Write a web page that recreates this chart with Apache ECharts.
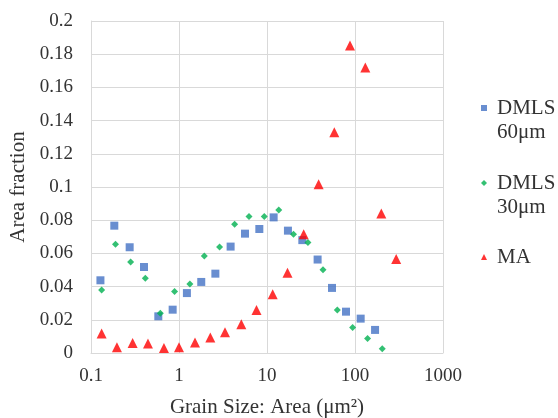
<!DOCTYPE html>
<html>
<head>
<meta charset="utf-8">
<script src="https://cdn.jsdelivr.net/npm/echarts@6/dist/echarts.min.js"></script>
<style>
  html, body { margin: 0; padding: 0; background: #fff; }
  #chart { width: 558px; height: 418px; }
</style>
</head>
<body>
<div id="chart"></div>
<script>
// DMLS 60µm [grain area, area fraction]
const dmls60 = [
  [0.128, 0.0438], [0.184, 0.0767], [0.275, 0.0637], [0.40, 0.0518],
  [0.582, 0.0221], [0.847, 0.0261], [1.23, 0.0361], [1.79, 0.0428],
  [2.59, 0.0478], [3.86, 0.0641], [5.62, 0.0719], [8.18, 0.0747],
  [11.9, 0.0817], [17.3, 0.0737], [25.2, 0.068], [37.6, 0.0563],
  [54.8, 0.0392], [79, 0.0249], [116, 0.0207], [169, 0.0139]
]
// DMLS 30µm
const dmls30 = [
  [0.132, 0.038], [0.19, 0.0655], [0.282, 0.0548], [0.414, 0.045],
  [0.613, 0.0239], [0.89, 0.037], [1.33, 0.0416], [1.94, 0.0584],
  [2.89, 0.0639], [4.29, 0.0775], [6.24, 0.0822], [9.3, 0.0822],
  [13.6, 0.0862], [20, 0.0715], [29.2, 0.0665], [43.3, 0.0502],
  [63, 0.0259], [94, 0.0153], [139, 0.0087], [204, 0.0026]
]
// MA
const ma = [
  [0.132, 0.0117], [0.197, 0.0034], [0.297, 0.006], [0.444, 0.0057],
  [0.674, 0.003], [1.0, 0.0034], [1.52, 0.0063], [2.27, 0.0093],
  [3.33, 0.0125], [5.11, 0.0173], [7.6, 0.0259], [11.6, 0.0354],
  [17.1, 0.0484], [26.1, 0.0715], [38.6, 0.1016], [58.2, 0.133],
  [87.7, 0.1852], [131, 0.172], [199, 0.084], [294, 0.0566]
]
const seriesNames = ['DMLS 60μm', 'DMLS 30μm', 'MA']
const colors = ['#4472C4', '#00B050', '#FF0000']

const font = 'Liberation Serif'
const textColor = '#333'
const chart = echarts.init(document.getElementById('chart'))

// one legend per entry so the marker sits on the first text line
const legendTops = [72, 147, 245]
const legends = seriesNames.map((name, i) => ({
  orient: 'vertical',
  left: 481,
  top: legendTops[i],
  padding: 0,
  itemWidth: 6,
  itemHeight: 6,
  textStyle: { fontFamily: font, fontSize: 21, color: textColor, lineHeight: 24, padding: [0, 0, 0, 5] },
  // leading empty line keeps the first word level with the marker
  formatter: (n) => n.includes(' ') ? '\n' + n.replace(' ', '\n') : n,
  data: [name]
}))

const option = {
  animation: false,
  backgroundColor: '#fff',
  textStyle: { fontFamily: font },
  grid: { left: 91, right: 115, top: 21, bottom: 65, outerBoundsMode: 'none' },
  legend: legends,
  xAxis: {
    type: 'log',
    logBase: 10,
    min: 0.1,
    max: 1000,
    name: 'Grain Size: Area (μm²)',
    nameLocation: 'middle',
    nameGap: 44,
    nameTextStyle: { fontFamily: font, fontSize: 21, color: textColor },
    axisLine: { lineStyle: { color: '#d9d9d9' } },
    axisTick: { show: false },
    axisLabel: {
      fontFamily: font, fontSize: 19, color: textColor, margin: 14,
      formatter: (v) => String(+Number(v).toPrecision(6))
    },
    splitLine: { show: true, lineStyle: { color: '#d9d9d9' } },
    minorSplitLine: { show: false }
  },
  yAxis: {
    type: 'value',
    min: 0,
    max: 0.2,
    interval: 0.02,
    name: 'Area fraction',
    nameLocation: 'middle',
    nameGap: 62,
    nameTextStyle: { fontFamily: font, fontSize: 21, color: textColor },
    axisLine: { show: true, lineStyle: { color: '#d9d9d9' } },
    axisTick: { show: false },
    axisLabel: { fontFamily: font, fontSize: 19, color: textColor, margin: 18 },
    splitLine: { lineStyle: { color: '#d9d9d9' } }
  },
  series: [
    {
      name: seriesNames[0], type: 'scatter', data: dmls60,
      symbol: 'rect', symbolSize: 8,
      itemStyle: { color: colors[0] }
    },
    {
      name: seriesNames[1], type: 'scatter', data: dmls30,
      symbol: 'diamond', symbolSize: 7,
      itemStyle: { color: colors[1] }
    },
    {
      name: seriesNames[2], type: 'scatter', data: ma,
      symbol: 'triangle', symbolSize: 10,
      itemStyle: { color: colors[2] }
    }
  ]
}

chart.setOption(option)
</script>
</body>
</html>
